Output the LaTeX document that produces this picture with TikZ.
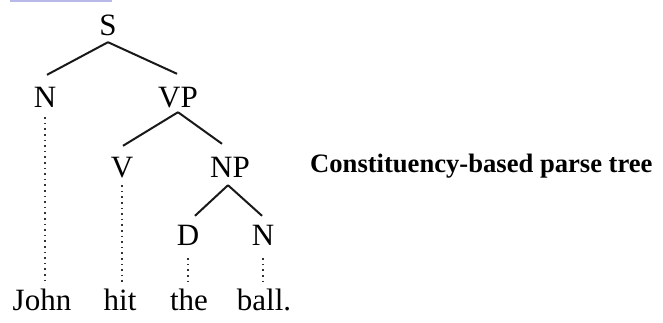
\documentclass[tikz,border=0pt]{standalone}
\usepackage{fontspec}
\setmainfont{Liberation Serif}
\begin{document}
\begin{tikzpicture}[x=1pt,y=-1pt,
  lab/.style={anchor=base,inner sep=0pt,text height=20pt,text depth=0pt,font=\fontsize{31}{35}\selectfont},
  edge/.style={line width=2pt,black!90},
  dotline/.style={line width=2pt,black!80,dash pattern=on 1.5pt off 4.1pt},
  ttl/.style={anchor=base west,inner sep=0pt,font=\fontsize{26.6}{30}\selectfont\bfseries}]
\useasboundingbox (0,0) rectangle (663,322);
\fill[fill={rgb,255:red,185;green,185;blue,232}] (10,0) rectangle (112,1.6);
% tree labels
\node[lab] (S) at (108,35) {S};
\node[lab] (N) at (45,107) {N};
\node[lab] (VP) at (178,107) {VP};
\node[lab] (V) at (122,177) {V};
\node[lab] (NP) at (230,177) {NP};
\node[lab] (D) at (188,245) {D};
\node[lab] (N2) at (263,245) {N};
% words
\node[lab] (john) at (42,310) {John};
\node[lab] (hit) at (120,310) {hit};
\node[lab] (the) at (189,310) {the};
\node[lab] (ball) at (264,310) {ball.};
% title
\node[ttl] (title) at (310,172) {Constituency-based parse tree};
% solid branches
\draw[edge] ([yshift=-7pt]S.south) -- ([xshift=2pt,yshift=12pt]N.north);
\draw[edge] ([yshift=-7pt]S.south) -- ([xshift=-1pt,yshift=13pt]VP.north);
\draw[edge] ([yshift=-5pt]VP.south) -- ([xshift=1pt,yshift=11pt]V.north);
\draw[edge] ([yshift=-5pt]VP.south) -- ([xshift=-8pt,yshift=13pt]NP.north);
\draw[edge] ([xshift=-2pt,yshift=-8pt]NP.south) -- ([xshift=7pt,yshift=9pt]D.north);
\draw[edge] ([xshift=-2pt,yshift=-8pt]NP.south) -- ([xshift=-1pt,yshift=9pt]N2.north);
% dotted leaves
\draw[dotline] ([yshift=-10pt]N.south) -- ([yshift=8pt]N.south |- john.north);
\draw[dotline] ([yshift=-8pt]V.south) -- ([yshift=8pt]V.south |- hit.north);
\draw[dotline] ([yshift=-13pt]D.south) -- ([yshift=4pt]D.south |- the.north);
\draw[dotline] ([yshift=-13pt]N2.south) -- ([yshift=4pt]N2.south |- ball.north);
\end{tikzpicture}
\end{document}
